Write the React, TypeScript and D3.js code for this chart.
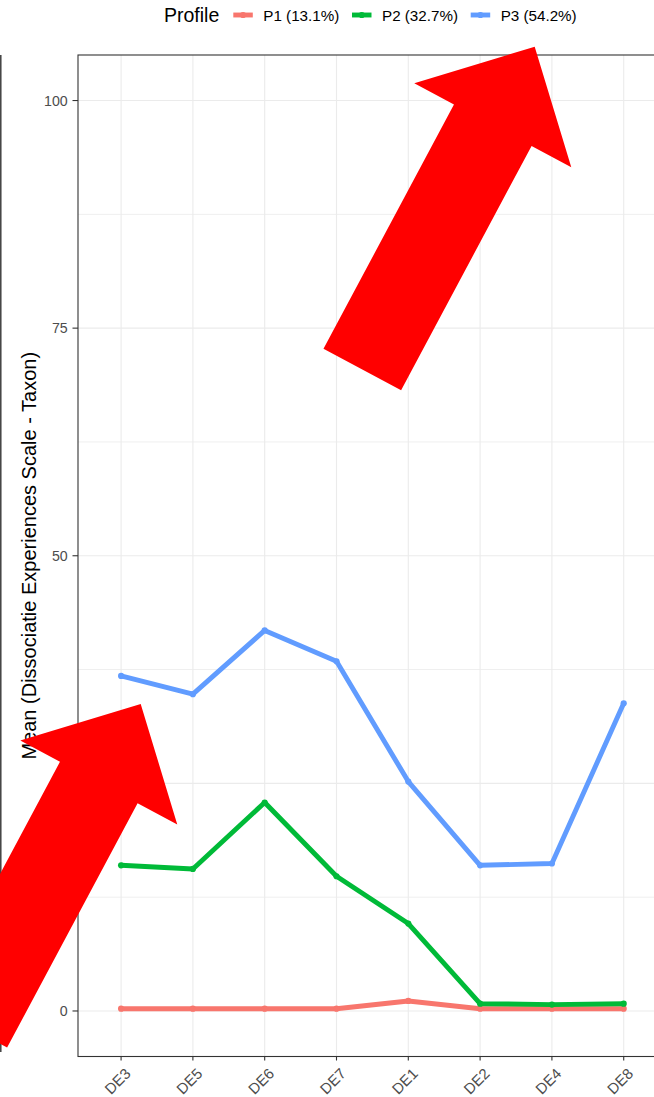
import React from "react";
import * as d3 from "d3";

// Items of the Dissociative Experiences Scale (taxon subset), in plotting order
const categories = ["DE3", "DE5", "DE6", "DE7", "DE1", "DE2", "DE4", "DE8"];

// Mean item score per latent profile
const p1Values = [0.25, 0.25, 0.25, 0.25, 1.1, 0.25, 0.25, 0.25];
const p2Values = [16.0, 15.6, 22.9, 14.8, 9.6, 0.8, 0.7, 0.8];
const p3Values = [36.8, 34.8, 41.8, 38.4, 25.2, 16.0, 16.2, 33.8];

const profileLabels = ["P1 (13.1%)", "P2 (32.7%)", "P3 (54.2%)"];
const profileColors = ["#F8766D", "#00BA38", "#619CFF"];

const yTicks = [0, 25, 50, 75, 100];
const yMinorTicks = [12.5, 37.5, 62.5, 87.5];

// Callout arrows laid over the figure (tip positions in page pixels)
const arrowTips: [number, number][] = [
  [534.7, 46.7],
  [140.7, 704],
];

const W = 654;
const H = 1097;
const FONT = "'Liberation Sans', Arial, Helvetica, sans-serif";

function arrowPath(tip: [number, number]) {
  const len = 366;
  const shaftHalf = 44;
  const headLen = 89;
  const headHalf = 89;
  const ang = Math.atan2(-0.882, 0.471);
  const ux = Math.cos(ang);
  const uy = Math.sin(ang);
  const nx = -uy;
  const ny = ux;
  const [tx, ty] = tip;
  const bx = tx - headLen * ux;
  const by = ty - headLen * uy;
  const cx = tx - len * ux;
  const cy = ty - len * uy;
  const pts: [number, number][] = [
    [tx, ty],
    [bx + headHalf * nx, by + headHalf * ny],
    [bx + shaftHalf * nx, by + shaftHalf * ny],
    [cx + shaftHalf * nx, cy + shaftHalf * ny],
    [cx - shaftHalf * nx, cy - shaftHalf * ny],
    [bx - shaftHalf * nx, by - shaftHalf * ny],
    [bx - headHalf * nx, by - headHalf * ny],
  ];
  return "M" + pts.map((p) => p.join(",")).join("L") + "Z";
}

export default function App() {
  const left = 78;
  const top = 55;
  const bottom = 1056.5;
  const right = 666.8;

  const x = d3.scalePoint<string>().domain(categories).range([left, right]).padding(0.6);
  const y = d3.scaleLinear().domain([-5, 105]).range([bottom, top]);

  const series = [p1Values, p2Values, p3Values];
  const line = d3
    .line<number>()
    .x((_, i) => x(categories[i]) as number)
    .y((v) => y(v));

  const legendY = 15;
  const legendKeyX = 233.3;
  const legendPitch = 118.7;
  const lineW = 4.9;
  const pointR = 3.1;

  return (
    <svg
      width={W}
      height={H}
      style={{ position: "absolute", left: 0, top: 0, display: "block", background: "#fff" }}
      fontFamily={FONT}
    >
      <rect x={0} y={0} width={W} height={H} fill="#fff" />

      {/* stray frame edge on the far left */}
      <line x1={0.8} x2={0.8} y1={top} y2={1052} stroke="#333" strokeWidth={1.4} />

      {/* grid */}
      {yMinorTicks.map((t) => (
        <line key={"mi" + t} x1={left} x2={right} y1={y(t)} y2={y(t)} stroke="#EFEFEF" strokeWidth={1} />
      ))}
      {yTicks.map((t) => (
        <line key={"ma" + t} x1={left} x2={right} y1={y(t)} y2={y(t)} stroke="#EBEBEB" strokeWidth={1.1} />
      ))}
      {categories.map((c) => (
        <line key={"vx" + c} x1={x(c)} x2={x(c)} y1={top} y2={bottom} stroke="#EBEBEB" strokeWidth={1.1} />
      ))}

      {/* profile lines */}
      {series.map((vals, si) => (
        <g key={"s" + si}>
          <path d={line(vals) || ""} fill="none" stroke={profileColors[si]} strokeWidth={lineW} strokeLinejoin="round" />
          {vals.map((v, i) => (
            <circle key={i} cx={x(categories[i])} cy={y(v)} r={pointR} fill={profileColors[si]} />
          ))}
        </g>
      ))}

      {/* panel border */}
      <rect x={left} y={top} width={right - left} height={bottom - top} fill="none" stroke="#333" strokeWidth={1.1} />

      {/* y axis */}
      {yTicks.map((t) => (
        <g key={"yt" + t}>
          <line x1={left - 5.5} x2={left} y1={y(t)} y2={y(t)} stroke="#333" strokeWidth={1.1} />
          <text x={left - 10.3} y={y(t)} dy="0.36em" textAnchor="end" fontSize={14.2} fill="#4D4D4D">
            {t}
          </text>
        </g>
      ))}
      <text
        transform={`translate(36,${(top + bottom) / 2}) rotate(-90)`}
        textAnchor="middle"
        fontSize={20}
        fill="#000"
      >
        Mean (Dissociatie Experiences Scale - Taxon)
      </text>

      {/* x axis */}
      {categories.map((c) => (
        <g key={"xt" + c}>
          <line x1={x(c)} x2={x(c)} y1={bottom} y2={bottom + 4} stroke="#333" strokeWidth={1.1} />
          <text
            transform={`translate(${(x(c) as number) + 10.5},1074.5) rotate(-45)`}
            textAnchor="end"
            fontSize={15}
            fill="#4D4D4D"
          >
            {c}
          </text>
        </g>
      ))}

      {/* legend */}
      <text x={164} y={22} fontSize={19.5} fill="#000">
        Profile
      </text>
      {profileLabels.map((lab, i) => {
        const kx = legendKeyX + i * legendPitch;
        return (
          <g key={"lg" + i}>
            <line x1={kx} x2={kx + 19.5} y1={legendY} y2={legendY} stroke={profileColors[i]} strokeWidth={lineW} />
            <circle cx={kx + 9.75} cy={legendY} r={pointR} fill={profileColors[i]} />
            <text x={kx + 30} y={21.2} fontSize={15.2} fill="#000">
              {lab}
            </text>
          </g>
        );
      })}

      {/* callout arrows */}
      {arrowTips.map((t, i) => (
        <path key={"ar" + i} d={arrowPath(t)} fill="#FF0000" />
      ))}
    </svg>
  );
}
